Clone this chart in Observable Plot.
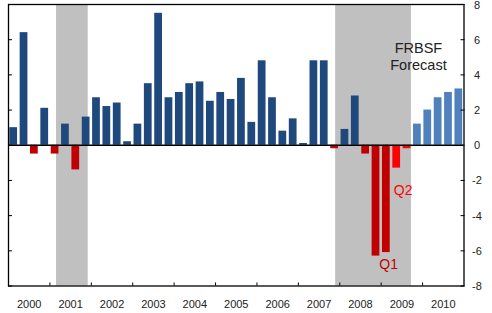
<!DOCTYPE html>
<html><head><meta charset="utf-8">
<script src="https://cdn.jsdelivr.net/npm/d3@7"></script>
<script src="https://cdn.jsdelivr.net/npm/@observablehq/plot@0.6"></script>
<style>html,body{margin:0;padding:0;background:#fff}#chart svg{display:block}</style>
</head><body><div id="chart"></div>
<script>
// Quarterly real GDP growth, 2000Q1 .. 2010Q4 (annualized %)
const years = [2000, 2001, 2002, 2003, 2004, 2005, 2006, 2007, 2008, 2009, 2010];
const growth = [
  1.0, 6.4, -0.5, 2.1,   // 2000
  -0.5, 1.2, -1.4, 1.6,  // 2001
  2.7, 2.2, 2.4, 0.2,    // 2002
  1.2, 3.5, 7.5, 2.7,    // 2003
  3.0, 3.5, 3.6, 2.5,    // 2004
  3.0, 2.6, 3.8, 1.3,    // 2005
  4.8, 2.7, 0.8, 1.5,    // 2006
  0.1, 4.8, 4.8, -0.2,   // 2007
  0.9, 2.8, -0.5, -6.3,  // 2008
  -6.1, -1.3, -0.2, 1.2, // 2009
  2.0, 2.7, 3.0, 3.2     // 2010
];
const barKind = [
  "hist","hist","histNeg","hist",
  "histNeg","hist","histNeg","hist",
  "hist","hist","hist","hist",
  "hist","hist","hist","hist",
  "hist","hist","hist","hist",
  "hist","hist","hist","hist",
  "hist","hist","hist","hist",
  "hist","hist","hist","histNeg",
  "hist","hist","histNeg","histNeg",
  "histNeg","fcNeg","fcNeg","fc",
  "fc","fc","fc","fc"
];
const kinds = ["hist", "histNeg", "fcNeg", "fc"];
const kindColors = ["#1f497d", "#c00000", "#ff0000", "#4f81bd"];
const yTicks = [-8, -6, -4, -2, 0, 2, 4, 6, 8];
const yearBoundaries = [2001, 2002, 2003, 2004, 2005, 2006, 2007, 2008, 2009, 2010];
// recession periods (fractional years)
const recessionStart = [2001.16, 2007.9];
const recessionEnd = [2001.925, 2009.73];

const bars = growth.map((v, i) => ({t: years[0] + i / 4, v, kind: barKind[i]}));
const recessions = recessionStart.map((s, i) => ({s, e: recessionEnd[i]}));

const font = "'Liberation Sans', Arial, sans-serif";

const chart = Plot.plot({
  width: 492,
  height: 313,
  marginLeft: 8,
  marginRight: 28.5,
  marginTop: 4,
  marginBottom: 27.5,
  style: {fontFamily: font, fontSize: "11px", color: "#222", background: "#fff", overflow: "visible"},
  x: {domain: [2000, 2011], axis: null},
  y: {domain: [-8, 8], axis: null},
  color: {domain: kinds, range: kindColors},
  marks: [
    Plot.rect(recessions, {x1: "s", x2: "e", y1: () => -8, y2: () => 8, fill: "#c0c0c0"}),
    Plot.rectY(bars, {x1: "t", x2: d => d.t + 0.25, y: "v", fill: "kind", insetLeft: 1.3, insetRight: 1.3}),
    Plot.ruleY([0], {stroke: "#000", strokeWidth: 1.5}),
    Plot.frame({stroke: "#000", strokeWidth: 1.3}),
    Plot.axisY(yTicks, {anchor: "left", tickSize: -4, tickFormat: () => "", label: null, stroke: "#000"}),
    Plot.axisY(yTicks, {anchor: "right", tickSize: -4, tickFormat: () => "", label: null, stroke: "#000"}),
    Plot.axisX(yearBoundaries, {anchor: "bottom", tickSize: -3, tickFormat: () => "", label: null, stroke: "#000"}),
    Plot.text(yTicks, {x: () => 2011, y: d => d, dx: 13, dy: 0.5, text: d => String(d), textAnchor: "middle", fontSize: 11, fill: "#222"}),
    Plot.text(years, {x: d => d + 0.5, y: () => -8, dy: 18.5, text: d => String(d), fontSize: 11, fill: "#222"}),
    Plot.text(["FRBSF\nForecast"], {x: () => 2009.9, y: () => 5.08, text: d => d, fontSize: 14.5, lineHeight: 1.18, fill: "#222"}),
    Plot.text(["Q1"], {x: () => 2009.18, y: () => -6.79, text: d => d, fontSize: 14, fill: "#c00000"}),
    Plot.text(["Q2"], {x: () => 2009.53, y: () => -2.55, text: d => d, fontSize: 14, fill: "#ff0000"})
  ]
});
document.getElementById("chart").appendChild(chart);
</script>
</body></html>
